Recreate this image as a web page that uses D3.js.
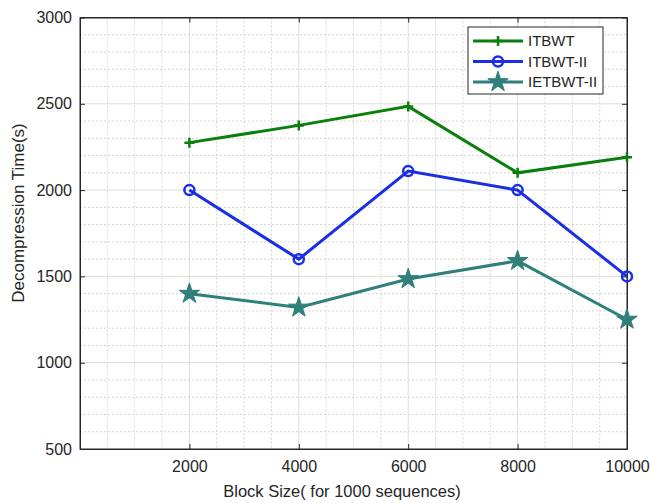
<!DOCTYPE html>
<html>
<head>
<meta charset="utf-8">
<script src="https://cdn.jsdelivr.net/npm/d3@7"></script>
<style>
  body { margin: 0; background: #fff; }
  text { font-family: "Liberation Sans", Arial, sans-serif; fill: #262626; }
</style>
</head>
<body>
<div class="chart"></div>
<script>
var blockSizes = [2000, 4000, 6000, 8000, 10000];
var itbwt = [2275, 2375, 2485, 2100, 2190];
var itbwt2 = [2000, 1600, 2110, 2000, 1500];
var ietbwt2 = [1400, 1320, 1485, 1590, 1250];
var seriesNames = ["ITBWT", "ITBWT-II", "IETBWT-II"];
var xTicks = [2000, 4000, 6000, 8000, 10000];
var yTicks = [500, 1000, 1500, 2000, 2500, 3000];

var svgWidth = 650, svgHeight = 503;
var margin = { top: 17.5, right: 23, bottom: 54, left: 80 };
var width = svgWidth - margin.left - margin.right;
var height = svgHeight - margin.top - margin.bottom;

var svg = d3.select(".chart").append("svg")
    .attr("width", svgWidth)
    .attr("height", svgHeight);

var chartGroup = svg.append("g")
    .attr("transform", `translate(${margin.left}, ${margin.top})`);

var x = d3.scaleLinear().domain([0, 10000]).range([0, width]);
var y = d3.scaleLinear().domain([500, 3000]).range([height, 0]);

// minor grid (dotted)
chartGroup.append("g").selectAll("line")
    .data(d3.range(500, 10000, 500).filter(v => v % 2000 != 0))
    .enter().append("line")
    .attr("x1", d => x(d)).attr("x2", d => x(d))
    .attr("y1", 0).attr("y2", height)
    .attr("stroke", "#d4d4d4").attr("stroke-dasharray", "2,2");
chartGroup.append("g").selectAll("line")
    .data(d3.range(600, 3000, 100).filter(v => v % 500 != 0))
    .enter().append("line")
    .attr("y1", d => y(d)).attr("y2", d => y(d))
    .attr("x1", 0).attr("x2", width)
    .attr("stroke", "#d4d4d4").attr("stroke-dasharray", "2,2");

// major grid
chartGroup.append("g").selectAll("line")
    .data(xTicks.slice(0, -1))
    .enter().append("line")
    .attr("x1", d => x(d)).attr("x2", d => x(d))
    .attr("y1", 0).attr("y2", height)
    .attr("stroke", "#dcdcdc");
chartGroup.append("g").selectAll("line")
    .data(yTicks.slice(1, -1))
    .enter().append("line")
    .attr("y1", d => y(d)).attr("y2", d => y(d))
    .attr("x1", 0).attr("x2", width)
    .attr("stroke", "#dcdcdc");

// axes, MATLAB style ticks inward
var fmt = d3.format("d");
var xAxis = d3.axisBottom(x).tickValues(xTicks).tickFormat(fmt).tickSizeInner(-5).tickSizeOuter(0).tickPadding(12);
var yAxis = d3.axisLeft(y).tickValues(yTicks).tickFormat(fmt).tickSizeInner(-5).tickSizeOuter(0).tickPadding(8);

var gx = chartGroup.append("g")
    .attr("transform", `translate(0, ${height})`)
    .call(xAxis);
var gy = chartGroup.append("g").call(yAxis);
chartGroup.append("g").call(d3.axisTop(x).tickValues(xTicks).tickSizeInner(-5).tickSizeOuter(0).tickFormat(""));
chartGroup.append("g").attr("transform", `translate(${width}, 0)`)
    .call(d3.axisRight(y).tickValues(yTicks).tickSizeInner(-5).tickSizeOuter(0).tickFormat(""));

chartGroup.selectAll(".domain").attr("stroke", "#262626");
chartGroup.selectAll(".tick line").attr("stroke", "#262626");
chartGroup.selectAll(".tick text").style("font-size", "16px")
    .style("font-family", "'Liberation Sans', Arial, sans-serif").attr("fill", "#333");

// box
chartGroup.append("rect")
    .attr("width", width).attr("height", height)
    .attr("fill", "none").attr("stroke", "#262626");

// axis labels
svg.append("text")
    .attr("x", 342).attr("y", 497)
    .attr("text-anchor", "middle").style("font-size", "16.5px")
    .text("Block Size( for 1000 sequences)");
svg.append("text")
    .attr("transform", "translate(24, 213) rotate(-90)")
    .attr("text-anchor", "middle").style("font-size", "17px")
    .text("Decompression Time(s)");

var colors = ["#0b7f0b", "#1a2ee6", "#2f7f7b"];
var allSeries = [itbwt, itbwt2, ietbwt2];
var line = d3.line().x(d => x(d[0])).y(d => y(d[1]));

function drawMarker(g, i, cx, cy) {
    if (i == 0) {
        g.append("path")
            .attr("d", `M${cx - 5},${cy}H${cx + 5}M${cx},${cy - 5}V${cy + 5}`)
            .attr("stroke", colors[0]).attr("stroke-width", 2.5);
    } else if (i == 1) {
        g.append("circle").attr("cx", cx).attr("cy", cy).attr("r", 5)
            .attr("fill", "none").attr("stroke", colors[1]).attr("stroke-width", 2.5);
    } else {
        g.append("path")
            .attr("d", d3.symbol(d3.symbolStar, 130)())
            .attr("transform", `translate(${cx}, ${cy})`)
            .attr("fill", colors[2]).attr("stroke", colors[2]).attr("stroke-width", 1);
    }
}

allSeries.forEach(function(vals, i) {
    var pts = blockSizes.map((b, j) => [b, vals[j]]);
    chartGroup.append("path")
        .datum(pts)
        .attr("d", line)
        .attr("fill", "none")
        .attr("stroke", colors[i])
        .attr("stroke-width", 3);
    var mg = chartGroup.append("g");
    pts.forEach(p => drawMarker(mg, i, x(p[0]), y(p[1])));
});

// legend
var legend = svg.append("g").attr("transform", "translate(468, 27)");
legend.append("rect").attr("width", 135).attr("height", 67)
    .attr("fill", "#fff").attr("stroke", "#262626");
seriesNames.forEach(function(name, i) {
    var ly = 14 + i * 20.5;
    legend.append("line").attr("x1", 5).attr("x2", 55)
        .attr("y1", ly).attr("y2", ly)
        .attr("stroke", colors[i]).attr("stroke-width", 3);
    drawMarker(legend, i, 30, ly);
    legend.append("text").attr("x", 60).attr("y", ly + 5)
        .style("font-size", "15px").text(name);
});
</script>
</body>
</html>
